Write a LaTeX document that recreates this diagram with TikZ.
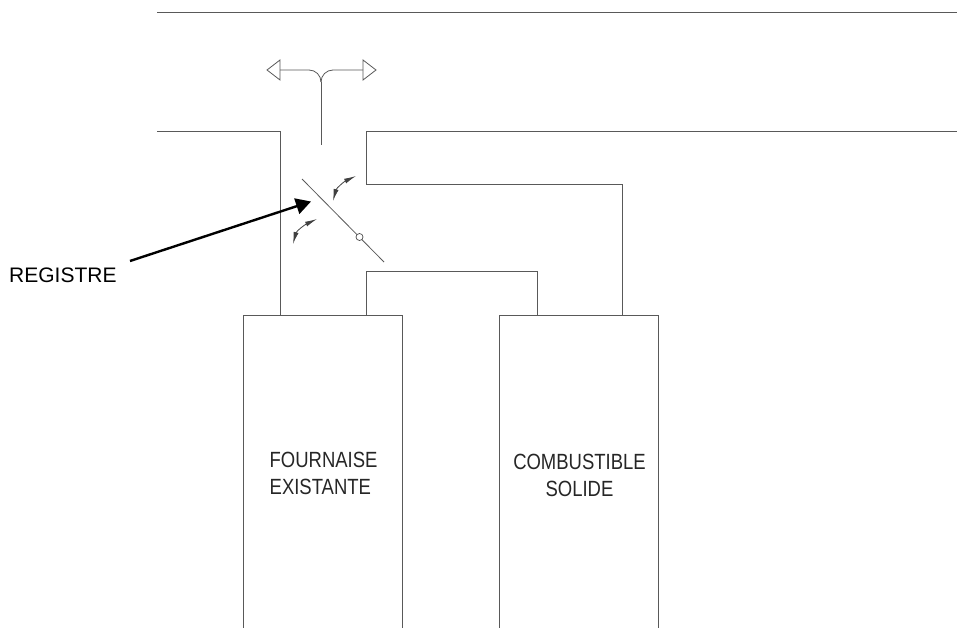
\documentclass[tikz,border=0pt]{standalone}
\usepackage{fontspec}
\setmainfont{Liberation Sans}
\usetikzlibrary{arrows.meta}
\tikzset{
  wall/.style={draw=black!65,line width=0.8pt},
  cad/.style={inner sep=0pt,font=\fontsize{22}{27}\selectfont\addfontfeature{FakeStretch=0.84},text=black!85},
  label/.style={inner sep=0pt,font=\fontsize{21}{21}\selectfont,text=black},
  small arrow/.style={draw=black!75,line width=0.8pt,{Latex[length=12pt,width=5pt]}-{Latex[length=12pt,width=5pt]}},
}
\begin{document}
\begin{tikzpicture}[x=1pt,y=-1pt]
\useasboundingbox (0,0) rectangle (957,628);
\draw[wall] (157,12) -- (957,12);
\draw[wall] (157,131) -- (280,131) -- (280,315);
\draw[wall] (957,131) -- (366,131) -- (366,184) -- (622,184) -- (622,315);
\draw[wall] (366,315) -- (366,271) -- (537,271) -- (537,315);
\draw[wall] (243,628) -- (243,315) -- (402,315) -- (402,628);
\draw[wall] (499,628) -- (499,315) -- (658,315) -- (658,628);
\draw[wall] (321,145) -- (321,82);
\draw[wall] (280,70) -- (309,70) to[out=0,in=90] (321,82);
\draw[wall] (363,70) -- (333,70) to[out=180,in=90] (321,82);
\draw[wall,line join=miter] (280,60) -- (267,70) -- (280,80) -- cycle;
\draw[wall,line join=miter] (363,60) -- (376,70) -- (363,80) -- cycle;
\coordinate (d1) at (302,179);
\coordinate (d2) at (384,262);
\draw[wall] (d1) -- (d2);
\node[circle,draw=black!70,fill=white,line width=0.7pt,minimum size=7pt,inner sep=0pt] (pivot) at (359.5,237) {};
\coordinate (a1) at (356,176);
\coordinate (a2) at (333,201);
\coordinate (b1) at (317,219);
\coordinate (b2) at (293,244);
\draw[small arrow] (a1) to[out=205,in=75] (a2);
\draw[small arrow] (b1) to[out=205,in=75] (b2);
\node[cad,align=left,anchor=west] (f) at (269.5,473) {FOURNAISE\\EXISTANTE};
\node[cad,align=center] (c) at (579.5,475) {COMBUSTIBLE\\SOLIDE};
\node[label,anchor=west] (reg) at (9,275) {REGISTRE};
\coordinate (tip) at (311,201.5);
\coordinate (tail) at (130,261);
\draw[black,line width=2.4pt,-{Triangle[length=15pt,width=16pt]}] (tail) -- (tip);
\end{tikzpicture}
\end{document}
